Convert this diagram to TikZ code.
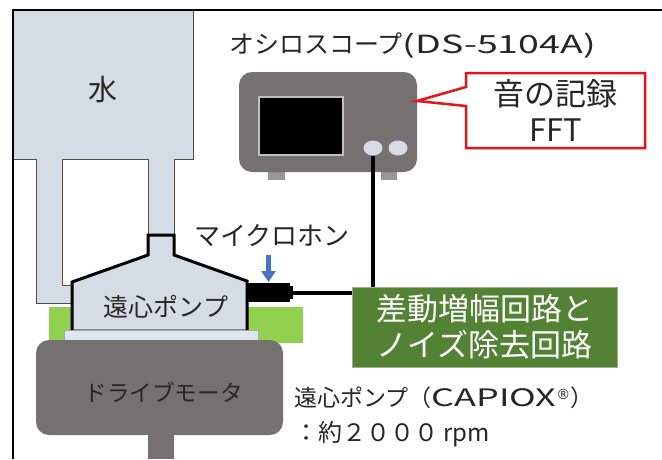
\documentclass[tikz,border=0pt]{standalone}
\usepackage{fontspec}
\setmainfont{Noto Sans CJK JP}
\newfontfamily\widefont[FakeStretch=1.5]{Noto Sans CJK JP}
\newfontfamily\markfont{DejaVu Sans}
\usetikzlibrary{arrows.meta,calc,positioning,shapes.geometric}

\definecolor{tankfill}{HTML}{D6DCE5}
\definecolor{motorgray}{HTML}{767171}
\definecolor{platefill}{HTML}{DEE5EF}
\definecolor{rubbergreen}{HTML}{92D050}
\definecolor{circuitgreen}{HTML}{548235}
\definecolor{callred}{HTML}{E8141B}
\definecolor{arrowblue}{HTML}{4472C4}
\definecolor{footgray}{HTML}{9A9696}

\begin{document}
\begin{tikzpicture}[x=1pt,y=-1pt,
		box/.style={inner sep=0pt,outer sep=0pt},
		pipe/.style={draw=black!70,line width=1pt},
		wire/.style={line width=4pt},
		knob/.style={ellipse,fill=tankfill,inner sep=0pt,minimum width=19pt,minimum height=15pt},
		label/.style={inner sep=0pt,text=black!85}]
		\useasboundingbox (0,0) rectangle (662,459);

		% Water tank and pipes
		\node[box,fill=tankfill,draw=black!70,line width=1pt,minimum width=180pt,minimum height=149pt] (tank) at (103,84.5) {};
		\node[label,font=\fontsize{29}{32}\selectfont] at ($(tank.center)+(0,5.5)$) {水};
		\fill[tankfill] (36,159) -- (36,303) -- (74,303) -- (74,285) -- (62,285) -- (62,159) -- cycle;
		\draw[pipe] (36,159) -- (36,303) -- (74,303) (62,159) -- (62,285) -- (74,285);
		\fill[tankfill] (148,159) rectangle (174,236);
		\draw[pipe] (148,159) -- (148,236) (174,159) -- (174,236);

		% Pump on its mount
		\fill[rubbergreen] (49,307) rectangle (303,343);
		\filldraw[fill=tankfill,line width=3pt,line join=miter] (148,235) -- (174,235) -- (174,255) -- (247,281)
			-- (247,331) -- (72,331) -- (72,282) -- (148,255) -- cycle;
		\node[label,font=\fontsize{25}{30}\selectfont] (pump) at (166,307) {遠心ポンプ};
		\filldraw[fill=platefill,draw=black!35,line width=0.8pt] (64,330) rectangle (258,340);

		% Drive motor
		\fill[motorgray] (148,430) rectangle (174,459);
		\node[box,fill=motorgray,rounded corners=13pt,minimum width=247pt,minimum height=95pt] (motor) at (159.5,387.5) {};
		\node[label,font=\fontsize{22.6}{28}\selectfont] at ($(motor.center)+(4,5)$) {ドライブモータ};

		% Microphone
		\node[box,fill=black,minimum width=43pt,minimum height=19pt] (mic) at (268.5,292.5) {};
		\node[box,fill=black,minimum width=3pt,minimum height=13pt,right=0pt of mic] (mictip) {};
		\coordinate (arrtop) at ($(mic.north)+(0,-28)$);
		\draw[-{Triangle[width=14pt,length=11pt]},arrowblue,line width=4.5pt] (arrtop) -- ($(mic.north)+(0,-1)$);
		\node[label,font=\fontsize{26}{30}\selectfont] (miclbl) at (272,236) {マイクロホン};

		% Filter circuit
		\node[box,fill=circuitgreen,draw=circuitgreen!60!white,line width=0.6pt,minimum width=265pt,minimum height=80pt,
			text=white,align=center,font=\fontsize{31}{36}\selectfont] (circuit) at (484.5,327) {差動増幅回路と\\ノイズ除去回路};
		\draw[wire] (mictip.east) -- (mictip.east -| circuit.west);

		% Oscilloscope
		\fill[footgray] (268,170) rectangle (285,180);
		\fill[footgray] (381,170) rectangle (397,180);
		\node[box,fill=motorgray,rounded corners=13pt,minimum width=178pt,minimum height=100pt] (scope) at (328,122) {};
		\node[box,fill=black,draw=black!25,line width=1.2pt,minimum width=84pt,minimum height=58pt] (screen) at (301,126) {};
		\node[knob] (knobA) at (373,148) {};
		\node[knob] (knobB) at (398,148) {};
		\draw[wire] (knobA.south) -- (knobA.south |- circuit.north);
		\node[label,anchor=base west,font=\fontsize{25}{30}\selectfont] (scopelbl) at (229,53.5) {オシロスコープ{\widefont(DS-5104A)}};

		% Callout
		\node[box,minimum width=179pt,minimum height=75pt,align=center,text=black!85,
			font=\fontsize{31}{36}\selectfont] (callout) at (555.5,110.5) {音の記録\\FFT};
		\coordinate (tip) at ($(scope.north east)!0.29!(scope.south east)$);
		\draw[callred,line width=2.5pt,line join=miter] ($(callout.north west)+(0,14)$) -- (callout.north west)
			-- (callout.north east) -- (callout.south east) -- (callout.south west)
			-- ($(callout.north west)+(0,33)$) -- (tip) -- cycle;

		% Pump spec
		\node[label,anchor=base west,font=\fontsize{23}{30}\selectfont] (spec1) at (294,406)
			{遠心ポンプ（{\fontsize{24}{30}\widefont CAPIOX}{\fontsize{14}{14}\markfont\raisebox{7pt}{®}}）};
		\node[label,anchor=base west,font=\fontsize{24}{30}\selectfont] (spec2) at ($(spec1.base west)+(0,35)$) {：約２０００ rpm};

		% Frame
		\draw[line width=1.8pt] (13,459) -- (13,10) -- (662,10);
	\end{tikzpicture}
\end{document}
